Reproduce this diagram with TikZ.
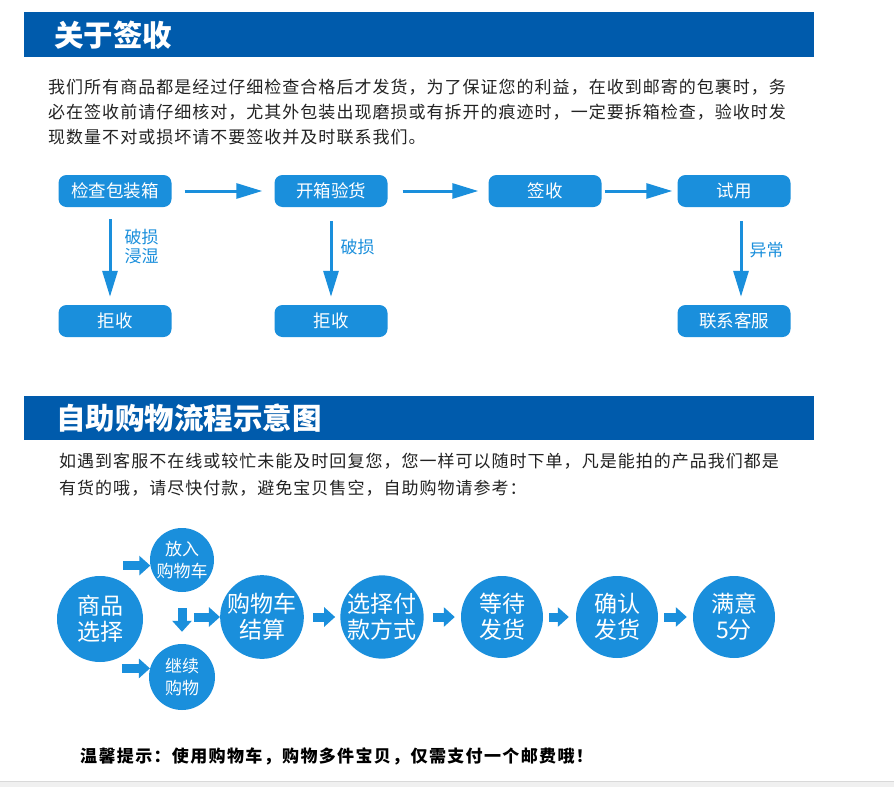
\documentclass[tikz,border=0pt]{standalone}
\usepackage{fontspec}
\setmainfont{Noto Sans CJK SC}
\usetikzlibrary{arrows.meta,positioning,calc}
\definecolor{hblue}{HTML}{005BAC}
\definecolor{fblue}{HTML}{1A8FDC}
\definecolor{ftext}{HTML}{222222}
\tikzset{
  hbar/.style={fill=hblue,draw=none},
  htitle/.style={text=white,font=\fontsize{29.5}{32}\selectfont\bfseries,anchor=west,inner sep=0pt},
  para/.style={text=ftext,font=\fontsize{17}{25}\selectfont\addfontfeature{LetterSpace=6},anchor=north west,align=left,inner sep=0pt},
  note/.style={text=black,font=\fontsize{17}{20}\selectfont\bfseries\addfontfeature{LetterSpace=8},anchor=west,inner sep=0pt},
  fbox/.style={fill=fblue,rounded corners=8pt,minimum width=113pt,minimum height=32pt,text=white,font=\fontsize{17.5}{20}\selectfont,inner sep=0pt},
  farr/.style={-{Triangle[length=26pt,width=15pt]},line width=3pt,draw=fblue},
  flbl/.style={text=fblue,font=\fontsize{17}{19}\selectfont,align=left,inner sep=0pt},
  bigc/.style={circle,fill=fblue,minimum size=82pt,text=white,font=\fontsize{23}{26}\selectfont,align=center,inner sep=0pt},
  smlc/.style={circle,fill=fblue,minimum size=64pt,text=white,font=\fontsize{17}{22}\selectfont,align=center,inner sep=0pt},
  barr/.style={-{Triangle[length=11pt,width=19pt]},line width=9pt,draw=fblue},
}
\begin{document}
\begin{tikzpicture}[x=1pt,y=-1pt]
  \useasboundingbox (0,0) rectangle (894,787);
  \fill[white] (0,0) rectangle (894,787);
  \fill[gray!12] (0,781) rectangle (894,787);
  \draw[gray!30] (0,781) -- (894,781);

  \fill[hbar] (24,12) rectangle (814,57);
  \node[htitle] (t1) at (54,35) {关于签收};
  \node[para] (p1) at (48,79) {我们所有商品都是经过仔细检查合格后才发货，为了保证您的利益，在收到邮寄的包裹时，务\\
    必在签收前请仔细核对，尤其外包装出现磨损或有拆开的痕迹时，一定要拆箱检查，验收时发\\
    现数量不对或损坏请不要签收并及时联系我们。};

  \node[fbox] (chk) at (115,191) {检查包装箱};
  \node[fbox] (kx) at (331,191) {开箱验货};
  \node[fbox] (qs) at (545,191) {签收};
  \node[fbox] (sy) at (734,191) {试用};
  \node[fbox] (jj1) at (115,321) {拒收};
  \node[fbox] (jj2) at (331,321) {拒收};
  \node[fbox] (lx) at (734,321) {联系客服};
  \draw[farr,shorten <=13pt,shorten >=12pt] (chk) -- (kx);
  \draw[farr,shorten <=15pt,shorten >=10pt] (kx) -- (qs);
  \draw[farr,shorten <=3pt,shorten >=5pt] (qs) -- (sy);
  \draw[farr,shorten <=12pt,shorten >=8pt] ([xshift=-5pt]chk.south) -- ([xshift=-5pt]jj1.north)
    node[flbl,pos=0.4,right=13pt] {破损\\浸湿};
  \draw[farr,shorten <=14pt,shorten >=8pt] (kx.south) -- (jj2.north)
    node[flbl,pos=0.41,right=8pt] {破损};
  \draw[farr,shorten <=14pt,shorten >=8pt] ([xshift=7pt]sy.south) -- ([xshift=7pt]lx.north)
    node[flbl,pos=0.44,right=7pt] {异常};

  \fill[hbar] (24,396) rectangle (814,440);
  \node[htitle] (t2) at (56,418) {自助购物流程示意图};
  \node[para] (p2) at (59,453) {如遇到客服不在线或较忙未能及时回复您，您一样可以随时下单，凡是能拍的产品我们都是\\[2pt]
    有货的哦，请尽快付款，避免宝贝售空，自助购物请参考：};

  \node[bigc,minimum size=86pt] (xz) at (100,619) {商品\\选择};
  \node[smlc] (fr) at (182,560) {放入\\购物车};
  \node[smlc,minimum size=66pt] (jx) at (182,677) {继续\\购物};
  \node[bigc] (js) at (262,617) {购物车\\结算};
  \node[bigc] (fk) at (382,617) {选择付\\款方式};
  \node[bigc] (dd) at (502,617) {等待\\发货};
  \node[bigc] (qr) at (617,617) {确认\\发货};
  \node[bigc] (my) at (734,617) {满意\\5分};
  \draw[barr] ([xshift=-27pt]fr.190) -- (fr.190);
  \draw[barr] ([xshift=-28pt]jx.165) -- (jx.165);
  \draw[barr,shorten <=16pt,shorten >=12pt] (fr) -- (jx);
  \draw[barr] ([xshift=-26pt]js.west) -- (js.west);
  \draw[barr,shorten <=9pt,shorten >=5pt] (js) -- (fk);
  \draw[barr,shorten <=9pt,shorten >=6pt] (fk) -- (dd);
  \draw[barr,shorten <=6pt,shorten >=7pt] (dd) -- (qr);
  \draw[barr,shorten <=6pt,shorten >=6pt] (qr) -- (my);

  \node[note] (tip) at (80,756) {温馨提示：使用购物车，购物多件宝贝，仅需支付一个邮费哦！};
\end{tikzpicture}
\end{document}
